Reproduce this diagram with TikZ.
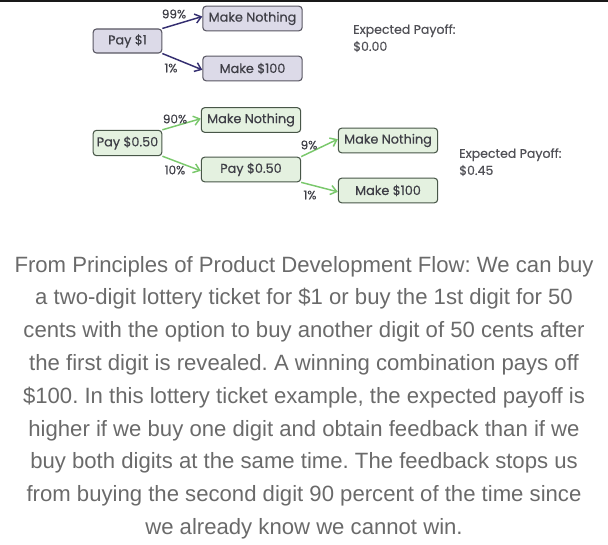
\documentclass[tikz,border=0pt]{standalone}
\usepackage{fontspec}
\setmainfont{Liberation Sans}
\newfontfamily\diagfont[FakeBold=0.5]{Poppins}
\usetikzlibrary{arrows.meta}
\definecolor{lavfill}{RGB}{220,218,232}
\definecolor{lavdraw}{RGB}{88,86,98}
\definecolor{lavarrow}{RGB}{52,46,112}
\definecolor{grnfill}{RGB}{228,241,224}
\definecolor{grndraw}{RGB}{72,86,72}
\definecolor{grnarrow}{RGB}{122,200,108}
\definecolor{labtext}{RGB}{62,62,70}
\definecolor{paytext}{RGB}{80,80,86}
\definecolor{paratext}{RGB}{106,106,106}
\tikzset{
  box/.style={draw, rounded corners=2.5pt, line width=0.8pt, inner sep=0pt,
    font=\diagfont\fontsize{9.6}{11}\selectfont, text=labtext, anchor=center},
  lav/.style={box, fill=lavfill, draw=lavdraw},
  grn/.style={box, fill=grnfill, draw=grndraw},
  wide/.style={minimum width=74.5pt, minimum height=18.5pt},
  narrow/.style={minimum width=51.5pt, minimum height=18pt},
  pct/.style={font=\diagfont\fontsize{9}{10}\selectfont, text=labtext, inner sep=0pt},
  larr/.style={draw=lavarrow, line width=1.1pt, -{Straight Barb[length=4.5pt,width=7pt]}},
  garr/.style={draw=grnarrow, line width=1.1pt, -{Straight Barb[length=4.5pt,width=7pt]}},
  payoff/.style={font=\diagfont\fontsize{9.4}{12.8}\selectfont, text=paytext, align=left, inner sep=0pt, anchor=north west},
}
\begin{document}
\frenchspacing
\begin{tikzpicture}[x=0.75pt,y=-0.75pt]
\useasboundingbox (0,0) rectangle (608,545);
\fill[black!90] (0,0) rectangle (608,2);
% top diagram
\node[lav,narrow] (pay1) at (127.5,41) {Pay \$1};
\node[lav,wide] (mn1) at (252.5,18.5) {Make Nothing};
\node[lav,wide] (mh1) at (252.5,68.5) {Make \$100};
\draw[larr] (pay1.north east) -- ([yshift=1.5pt]mn1.west);
\draw[larr] (pay1.south east) -- ([yshift=-1pt]mh1.west);
\node[pct] (p99) at (174,14) {99\%};
\node[pct] (p1a) at (171,68) {1\%};
\node[payoff] (ep1) at (353,24) {Expected Payoff:\\\$0.00};
% bottom diagram
\node[grn,narrow,minimum height=19pt] (pay2) at (127.5,143) {Pay \$0.50};
\node[grn,wide] (mn2) at (251,120) {Make Nothing};
\node[grn,wide] (pay3) at (251,169.5) {Pay \$0.50};
\node[grn,wide] (mn3) at (388,140.5) {Make Nothing};
\node[grn,wide] (mh3) at (388,190.5) {Make \$100};
\draw[garr] (pay2.north east) -- ([yshift=1pt]mn2.west);
\draw[garr] (pay2.south east) -- ([yshift=-1pt]pay3.west);
\draw[garr] (pay3.north east) -- ([yshift=1pt]mn3.west);
\draw[garr] (pay3.south east) -- ([yshift=-1pt]mh3.west);
\node[pct] (p90) at (175,119) {90\%};
\node[pct] (p10) at (175,170) {10\%};
\node[pct] (p9) at (309,145) {9\%};
\node[pct] (p1b) at (310,195) {1\%};
\node[payoff] (ep2) at (459,148) {Expected Payoff:\\\$0.45};
% paragraph
\node[text=paratext, align=center, inner sep=0pt, font=\fontsize{16.6}{24.6}\selectfont] (para) at (304,397.5)
{From Principles of Product Development Flow: We can buy\\
a two-digit lottery ticket for \$1 or buy the 1st digit for 50\\
cents with the option to buy another digit of 50 cents after\\
the first digit is revealed. A winning combination pays off\\
\$100. In this lottery ticket example, the expected payoff is\\
higher if we buy one digit and obtain feedback than if we\\
buy both digits at the same time. The feedback stops us\\
from buying the second digit 90 percent of the time since\\
we already know we cannot win.};
\end{tikzpicture}
\end{document}
